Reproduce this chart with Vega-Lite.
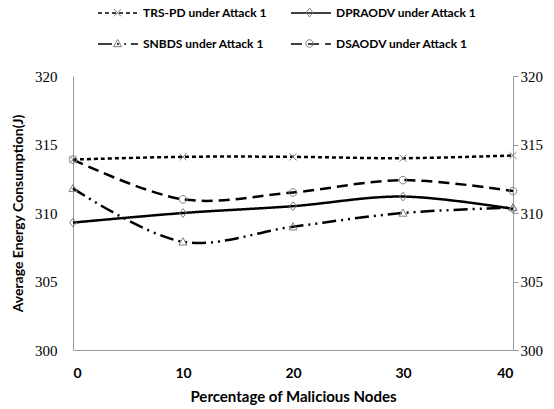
{
  "$schema": "https://vega.github.io/schema/vega-lite/v6.json",
  "width": 440,
  "height": 274,
  "autosize": {"type": "none"},
  "padding": {"left": 73, "top": 76, "right": 41, "bottom": 59},
  "background": "white",
  "config": {"view": {"stroke": null}},
  "data": {"values": [
    {"series": "TRS-PD under Attack 1", "x": 0, "y": 313.9},
    {"series": "TRS-PD under Attack 1", "x": 10, "y": 314.1},
    {"series": "TRS-PD under Attack 1", "x": 20, "y": 314.1},
    {"series": "TRS-PD under Attack 1", "x": 30, "y": 314.0},
    {"series": "TRS-PD under Attack 1", "x": 40, "y": 314.2},
    {"series": "DPRAODV under Attack 1", "x": 0, "y": 309.3},
    {"series": "DPRAODV under Attack 1", "x": 10, "y": 310.0},
    {"series": "DPRAODV under Attack 1", "x": 20, "y": 310.5},
    {"series": "DPRAODV under Attack 1", "x": 30, "y": 311.2},
    {"series": "DPRAODV under Attack 1", "x": 40, "y": 310.3},
    {"series": "SNBDS under Attack 1", "x": 0, "y": 311.8},
    {"series": "SNBDS under Attack 1", "x": 10, "y": 307.9},
    {"series": "SNBDS under Attack 1", "x": 20, "y": 309.0},
    {"series": "SNBDS under Attack 1", "x": 30, "y": 310.0},
    {"series": "SNBDS under Attack 1", "x": 40, "y": 310.4},
    {"series": "DSAODV under Attack 1", "x": 0, "y": 313.9},
    {"series": "DSAODV under Attack 1", "x": 10, "y": 311.0},
    {"series": "DSAODV under Attack 1", "x": 20, "y": 311.5},
    {"series": "DSAODV under Attack 1", "x": 30, "y": 312.4},
    {"series": "DSAODV under Attack 1", "x": 40, "y": 311.6}
  ]},
  "layer": [
    {
      "layer": [
        {
          "mark": {"type": "line", "interpolate": "catmull-rom", "color": "black", "strokeWidth": 2.5},
          "encoding": {
            "x": {"field": "x", "type": "quantitative", "scale": {"domain": [0, 40], "nice": false},
              "axis": {"title": "Percentage of Malicious Nodes", "values": [0, 10, 20, 30, 40], "grid": false, "ticks": false,
                "domainColor": "#999999", "labelFont": "Lato", "labelFontWeight": "bold", "labelFontSize": 14, "labelColor": "black",
                "labelPadding": 16, "titleFont": "Lato", "titleFontSize": 15, "titleFontWeight": "bold", "titleColor": "black", "titlePadding": 9}},
            "y": {"field": "y", "type": "quantitative", "scale": {"domain": [300, 320], "nice": false, "zero": false},
              "axis": {"title": "Average Energy Consumption(J)", "values": [300, 305, 310, 315, 320], "grid": false, "ticks": false,
                "domainColor": "#999999", "labelFont": "Liberation Serif", "labelFontSize": 15, "labelColor": "black", "labelPadding": 16,
                "titleFont": "Lato", "titleFontSize": 14, "titleFontWeight": "bold", "titleColor": "black", "titlePadding": 9}},
            "detail": {"field": "series"},
            "strokeDash": {"field": "series", "type": "nominal",
              "scale": {"domain": ["TRS-PD under Attack 1", "DPRAODV under Attack 1", "SNBDS under Attack 1", "DSAODV under Attack 1"],
                "range": [[4, 3], [1, 0], [14, 5, 2, 5, 2, 5], [11, 6]]},
              "legend": {"title": null, "orient": "none", "legendX": 24, "legendY": -84, "direction": "horizontal", "columns": 2,
                "columnPadding": 20, "rowPadding": 4, "symbolType": "stroke", "symbolSize": 1600, "symbolStrokeWidth": 1.5, "symbolStrokeColor": "black",
                "labelFont": "Lato", "labelFontWeight": "bold", "labelFontSize": 12, "labelColor": "black", "labelOffset": 4}}
          }
        },
        {
          "mark": {"type": "point", "filled": false, "stroke": "#808080", "strokeWidth": 1, "size": 1600, "opacity": 1},
          "encoding": {
            "x": {"field": "x", "type": "quantitative"},
            "y": {"field": "y", "type": "quantitative"},
            "shape": {"field": "series", "type": "nominal",
              "sort": ["TRS-PD under Attack 1", "DPRAODV under Attack 1", "SNBDS under Attack 1", "DSAODV under Attack 1"],
              "scale": {"range": [
                "M-0.18,-0.18L0.18,0.18M-0.18,0.18L0.18,-0.18",
                "M0,-0.22L0.17,0L0,0.22L-0.17,0Z",
                "M0,-0.2L0.2,0.16L-0.2,0.16Z",
                "M0.19,0A0.19,0.19,0,1,1,-0.19,0A0.19,0.19,0,1,1,0.19,0Z"]},
              "legend": {"title": null, "orient": "none", "legendX": 24, "legendY": -84, "direction": "horizontal", "columns": 2,
                "columnPadding": 147, "rowPadding": 4, "symbolSize": 1600, "symbolStrokeWidth": 1, "symbolStrokeColor": "#808080",
                "symbolFillColor": "transparent", "labelExpr": "''",
                "labelFont": "Lato", "labelFontWeight": "bold", "labelFontSize": 12, "labelColor": "transparent", "labelOffset": 4}}
          }
        }
      ]
    },
    {
      "mark": {"type": "point", "opacity": 0},
      "encoding": {
        "x": {"field": "x", "type": "quantitative"},
        "y": {"field": "y", "type": "quantitative", "scale": {"domain": [300, 320], "nice": false, "zero": false},
          "axis": {"orient": "right", "title": null, "values": [300, 305, 310, 315, 320], "grid": false, "ticks": true, "tickSize": 5,
            "tickColor": "#999999", "domainColor": "#999999", "labelFont": "Liberation Serif", "labelFontSize": 15, "labelColor": "black", "labelPadding": 2}}
      }
    }
  ],
  "resolve": {"scale": {"y": "independent"}}
}
